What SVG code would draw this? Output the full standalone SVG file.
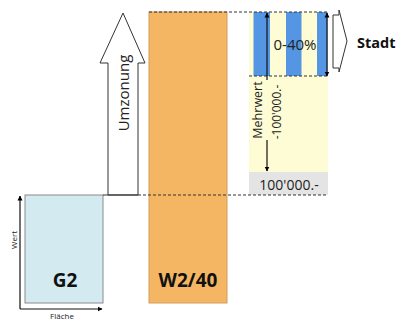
<svg xmlns="http://www.w3.org/2000/svg" width="398" height="320" viewBox="0 0 398 320">
<defs>
<marker id="ah" viewBox="0 0 10 10" refX="9" refY="5" markerWidth="5" markerHeight="7" orient="auto-start-reverse" markerUnits="userSpaceOnUse">
<path d="M0,0 L10,5 L0,10 z" fill="#000"/>
</marker>
</defs>
<style>
text{font-family:"Open Sans","DejaVu Sans",sans-serif;fill:#222}
.b{font-weight:bold;fill:#111}
.dash{stroke:#333;stroke-width:1;stroke-dasharray:3,2;fill:none}
.ln{stroke:#111;stroke-width:1.2;fill:none}
.blue{fill:#5496e3}
</style>
<rect width="398" height="320" fill="#fff"/>

<g id="g2">
<rect x="25" y="195" width="78" height="108" fill="#d3eaf1" stroke="#8a8a8a" stroke-width="1"/>
<text class="b" x="65" y="287" font-size="19" text-anchor="middle">G2</text>
</g>

<g id="axes">
<line class="ln" x1="20" y1="309" x2="20" y2="196" marker-end="url(#ah)"/>
<line class="ln" x1="20" y1="309" x2="102" y2="309" marker-end="url(#ah)"/>
<text x="14" y="240" font-size="8" text-anchor="middle" transform="rotate(-90 14 240)" dy="3">Wert</text>
<text x="62" y="319" font-size="8" text-anchor="middle">Fläche</text>
</g>

<g id="umzonung">
<polygon points="108,195 108,63 100,63 123,13 145,63 138,63 138,195" fill="#fff" stroke="#333" stroke-width="1"/>
<text x="124" y="93" font-size="15" text-anchor="middle" dy="5" transform="rotate(-90 124 93)">Umzonung</text>
</g>

<g id="w240">
<rect x="149" y="12" width="78" height="291" fill="#f4b663" stroke="#d29e5b" stroke-width="1"/>
<text class="b" x="188" y="287" font-size="19" text-anchor="middle">W2/40</text>
</g>

<g id="stadtwert">
<rect x="249" y="12" width="79" height="160" fill="#fefcd5"/>
<rect class="blue" x="253.5" y="12" width="16.5" height="64"/>
<rect class="blue" x="286" y="12" width="15.5" height="64"/>
<rect class="blue" x="317" y="12" width="10.5" height="64"/>
<rect x="249" y="172" width="79" height="23" fill="#e4e4e4"/>
<text x="0" y="0" font-size="15" text-anchor="middle" transform="translate(295 50)">0-40%</text>
<text x="289" y="190" font-size="14" text-anchor="middle">100'000.-</text>
<text x="258" y="110" font-size="12.5" text-anchor="middle" dy="4" transform="rotate(-90 258 110)">Mehrwert</text>
<text x="277" y="112" font-size="12" text-anchor="middle" dy="4" transform="rotate(-90 277 112)">-100'000.-</text>
</g>

<g id="stadt">
<polygon points="333,15 339,15 339,10 347,41 339,72 339,68 333,68" fill="#fff" stroke="#333" stroke-width="1"/>
<text class="b" x="357" y="48" font-size="14.5">Stadt</text>
</g>

<g id="connectors">
<line class="dash" x1="149" y1="12" x2="328" y2="12"/>
<line class="dash" x1="249" y1="76" x2="328" y2="76"/>
<line class="dash" x1="138" y1="195" x2="328" y2="195"/>
<line x1="103" y1="195" x2="138" y2="195" stroke="#333" stroke-width="1"/>
<line class="ln" x1="267" y1="80" x2="267" y2="13" marker-end="url(#ah)"/>
<line class="ln" x1="267" y1="140" x2="267" y2="171" marker-end="url(#ah)"/>
<line class="ln" x1="327" y1="13" x2="327" y2="76" marker-start="url(#ah)" marker-end="url(#ah)"/>
</g>
</svg>
